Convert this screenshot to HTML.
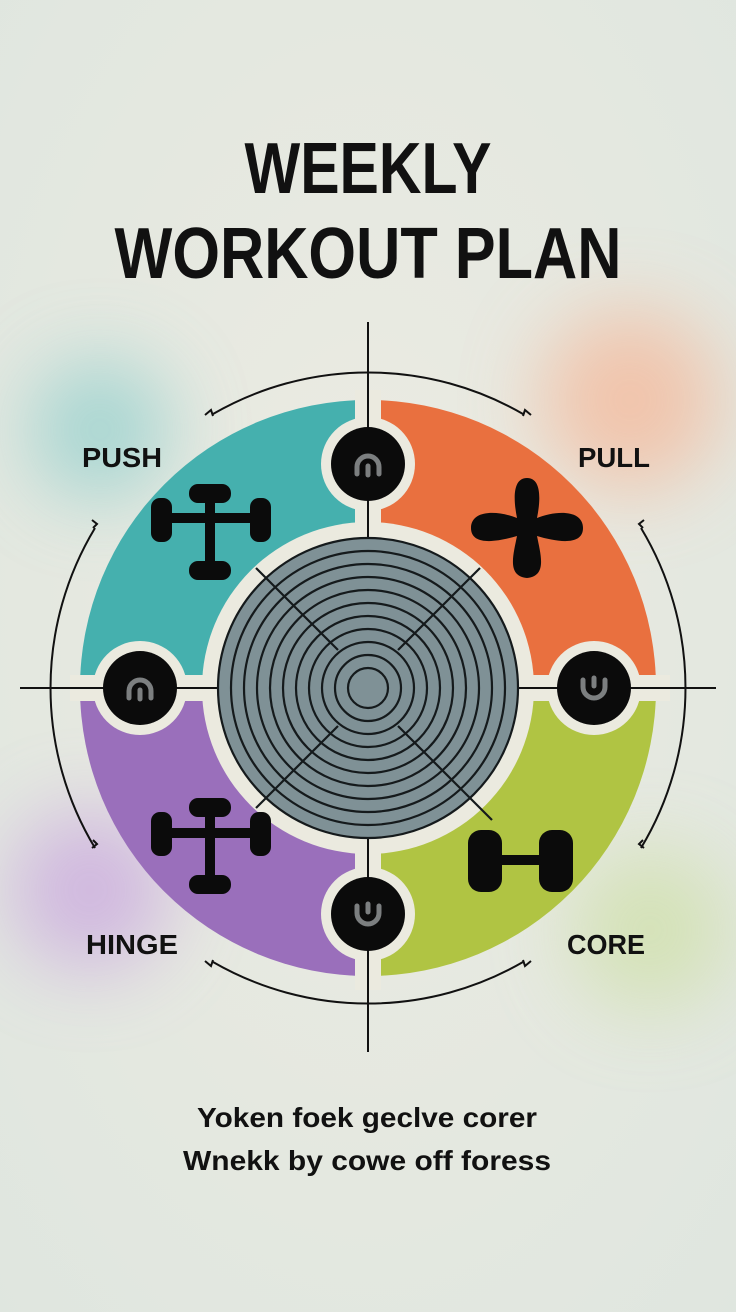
<!DOCTYPE html>
<html><head><meta charset="utf-8"><style>
html,body{margin:0;padding:0;}
body{width:736px;height:1312px;overflow:hidden;background:#e9eadf;}
svg{display:block;}
</style></head><body>
<svg width="736" height="1312" viewBox="0 0 736 1312" xmlns="http://www.w3.org/2000/svg" font-family="Liberation Sans, sans-serif">
<defs>
<radialGradient id="bg" cx="0.5" cy="0.45" r="0.75">
<stop offset="0" stop-color="#ecebe2"/><stop offset="1" stop-color="#dfe6df"/></radialGradient>
<filter id="blur" x="-50%" y="-50%" width="200%" height="200%"><feGaussianBlur stdDeviation="40"/></filter>
<clipPath id="qTL"><rect x="0" y="0" width="355" height="675"/></clipPath>
<clipPath id="qTR"><rect x="381" y="0" width="400" height="675"/></clipPath>
<clipPath id="qBL"><rect x="0" y="701" width="355" height="700"/></clipPath>
<clipPath id="qBR"><rect x="381" y="701" width="400" height="700"/></clipPath>
</defs>
<rect width="736" height="1312" fill="url(#bg)"/>
<g filter="url(#blur)" opacity="0.75">
<circle cx="100" cy="430" r="70" fill="#8fcfcc"/>
<circle cx="630" cy="400" r="90" fill="#f5b89a"/>
<circle cx="90" cy="890" r="80" fill="#c9a6df"/>
<circle cx="650" cy="930" r="80" fill="#cfe0a8"/>
</g>

<text x="368" y="193" text-anchor="middle" font-size="72" font-weight="bold" fill="#111" textLength="247" lengthAdjust="spacingAndGlyphs">WEEKLY</text>
<text x="368" y="278" text-anchor="middle" font-size="72" font-weight="bold" fill="#111" textLength="507" lengthAdjust="spacingAndGlyphs">WORKOUT PLAN</text>

<!-- outer arcs -->
<g fill="none" stroke="#111" stroke-width="2">
<path d="M 213 414 A 310 310 0 0 1 523 414"/>
<path d="M 95 528 A 310 310 0 0 0 95 848"/>
<path d="M 641 528 A 310 310 0 0 1 641 848"/>
<path d="M 213 962 A 310 310 0 0 0 523 962"/>
<path d="M 205 415 l 6 -5 l 2 6 "/>
<path d="M 531 415 l -6 -5 l -2 6"/>
<path d="M 92 520 l 5 4 l -4 4"/>
<path d="M 644 520 l -5 4 l 4 4"/>
<path d="M 92 848 l 5 -4 l -4 -4"/>
<path d="M 644 848 l -5 -4 l 4 -4"/>
<path d="M 205 961 l 6 5 l 2 -6"/>
<path d="M 531 961 l -6 5 l -2 -6"/>
</g>

<!-- quadrants -->
<circle cx="368" cy="688" r="288" fill="#45b0ae" clip-path="url(#qTL)"/>
<circle cx="368" cy="688" r="288" fill="#e9703f" clip-path="url(#qTR)"/>
<circle cx="368" cy="688" r="288" fill="#9a6fbb" clip-path="url(#qBL)"/>
<circle cx="368" cy="688" r="288" fill="#b0c443" clip-path="url(#qBR)"/>
<rect x="355" y="390" width="26" height="600" fill="#ebeadf"/>
<rect x="70" y="675" width="600" height="26" fill="#ebeadf"/>
<circle cx="368" cy="688" r="166" fill="#ebeadf"/>
<circle cx="368" cy="464" r="47" fill="#ebeadf"/>
<circle cx="140" cy="688" r="47" fill="#ebeadf"/>
<circle cx="594" cy="688" r="47" fill="#ebeadf"/>
<circle cx="368" cy="914" r="47" fill="#ebeadf"/>

<!-- crosshair -->
<g stroke="#111" stroke-width="2">
<line x1="368" y1="322" x2="368" y2="1052"/>
<line x1="20" y1="688" x2="716" y2="688"/>
</g>

<!-- target -->
<circle cx="368" cy="688" r="150" fill="#7f9196"/>
<g fill="none" stroke="#151a1c" stroke-width="2.2">
<circle cx="368" cy="688" r="150"/>
<circle cx="368" cy="688" r="137"/>
<circle cx="368" cy="688" r="124"/>
<circle cx="368" cy="688" r="111"/>
<circle cx="368" cy="688" r="98"/>
<circle cx="368" cy="688" r="85"/>
<circle cx="368" cy="688" r="72"/>
<circle cx="368" cy="688" r="59"/>
<circle cx="368" cy="688" r="46"/>
<circle cx="368" cy="688" r="33"/>
<circle cx="368" cy="688" r="20"/>
<line x1="256" y1="568" x2="338" y2="650"/>
<line x1="480" y1="568" x2="398" y2="650"/>
<line x1="256" y1="808" x2="338" y2="726"/>
<line x1="492" y1="820" x2="398" y2="726"/>
</g>

<!-- black nodes -->
<g>
<circle cx="368" cy="464" r="37" fill="#0b0b0b"/>
<circle cx="140" cy="688" r="37" fill="#0b0b0b"/>
<circle cx="594" cy="688" r="37" fill="#0b0b0b"/>
<circle cx="368" cy="914" r="37" fill="#0b0b0b"/>
</g>
<g fill="none" stroke="#7c7f80" stroke-width="5" stroke-linecap="round">
<path d="M 357 474 v -7 a 11 11 0 0 1 22 0 v 7"/>
<line x1="368" y1="466" x2="368" y2="475"/>
<path d="M 129 698 v -7 a 11 11 0 0 1 22 0 v 7"/>
<line x1="140" y1="690" x2="140" y2="699"/>
<path d="M 583 680 v 7 a 11 11 0 0 0 22 0 v -7"/>
<line x1="594" y1="678" x2="594" y2="686"/>
<path d="M 357 906 v 7 a 11 11 0 0 0 22 0 v -7"/>
<line x1="368" y1="904" x2="368" y2="912"/>
</g>

<!-- icons -->
<g fill="#0b0b0b">
<!-- push -->
<rect x="166" y="513" width="90" height="10"/>
<rect x="205" y="496" width="10" height="70"/>
<rect x="151" y="498" width="21" height="44" rx="9"/>
<rect x="250" y="498" width="21" height="44" rx="9"/>
<rect x="189" y="484" width="42" height="19" rx="9"/>
<rect x="189" y="561" width="42" height="19" rx="9"/>
<!-- hinge -->
<rect x="166" y="828" width="90" height="10"/>
<rect x="205" y="810" width="10" height="70"/>
<rect x="151" y="812" width="21" height="44" rx="9"/>
<rect x="250" y="812" width="21" height="44" rx="9"/>
<rect x="189" y="798" width="42" height="19" rx="9"/>
<rect x="189" y="875" width="42" height="19" rx="9"/>
<!-- core -->
<rect x="500" y="855" width="40" height="10"/>
<rect x="468" y="830" width="34" height="62" rx="13"/>
<rect x="539" y="830" width="34" height="62" rx="13"/>
<!-- pull -->
<path d="M 527 478 c 14 0 14 20 10 40 c 20 -8 46 -8 46 10 c 0 18 -26 14 -46 8 c 4 20 10 40 -10 42 c -20 -2 -14 -22 -10 -42 c -20 6 -46 10 -46 -8 c 0 -18 26 -18 46 -10 c -4 -20 -4 -40 10 -40 z"/>
</g>

<!-- labels -->
<g font-weight="bold" font-size="28" fill="#111">
<text x="82" y="467" textLength="80" lengthAdjust="spacingAndGlyphs">PUSH</text>
<text x="578" y="467" textLength="72" lengthAdjust="spacingAndGlyphs">PULL</text>
<text x="86" y="954" textLength="92" lengthAdjust="spacingAndGlyphs">HINGE</text>
<text x="567" y="954" textLength="78" lengthAdjust="spacingAndGlyphs">CORE</text>
</g>

<g font-weight="bold" font-size="28" fill="#111" text-anchor="middle">
<text x="367" y="1127" textLength="340" lengthAdjust="spacingAndGlyphs">Yoken foek geclve corer</text>
<text x="367" y="1170" textLength="368" lengthAdjust="spacingAndGlyphs">Wnekk by cowe off foress</text>
</g>
</svg>
</body></html>
